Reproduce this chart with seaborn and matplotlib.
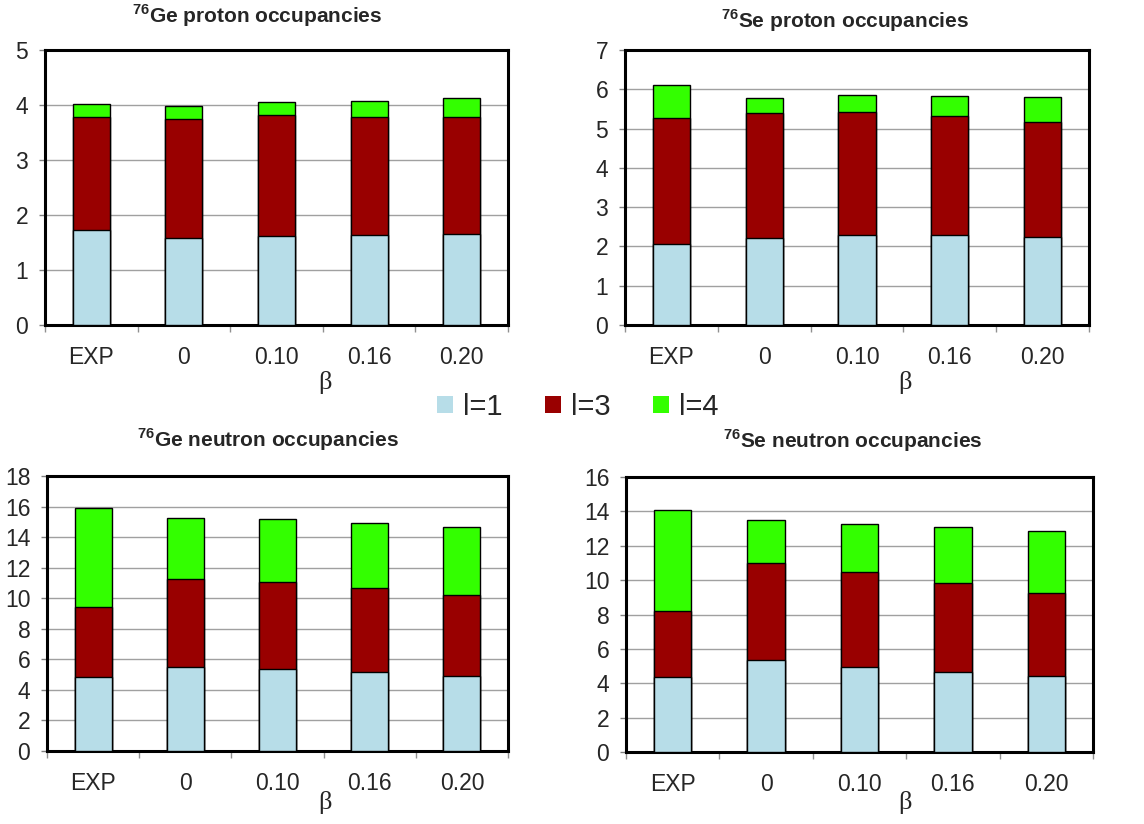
import numpy as np
import pandas as pd
import matplotlib
matplotlib.use("Agg")
import matplotlib.pyplot as plt
from matplotlib.patches import Patch
from matplotlib.ticker import MultipleLocator, FixedLocator
import seaborn as sns

# ---------------- data ----------------
categories = ["EXP", "0", "0.10", "0.16", "0.20"]
series_labels = ["l=1", "l=3", "l=4"]
series_colors = ["#B7DDE8", "#990000", "#33FF00"]

ge_proton_l1 = [1.73, 1.59, 1.62, 1.63, 1.65]
ge_proton_l3 = [2.05, 2.16, 2.19, 2.16, 2.14]
ge_proton_l4 = [0.23, 0.23, 0.24, 0.29, 0.34]

se_proton_l1 = [2.06, 2.22, 2.30, 2.28, 2.23]
se_proton_l3 = [3.20, 3.18, 3.13, 3.04, 2.94]
se_proton_l4 = [0.85, 0.38, 0.42, 0.51, 0.64]

ge_neutron_l1 = [4.87, 5.48, 5.37, 5.15, 4.93]
ge_neutron_l3 = [4.53, 5.76, 5.67, 5.50, 5.30]
ge_neutron_l4 = [6.48, 4.03, 4.15, 4.27, 4.43]

se_neutron_l1 = [4.38, 5.37, 4.96, 4.65, 4.40]
se_neutron_l3 = [3.84, 5.61, 5.49, 5.18, 4.87]
se_neutron_l4 = [5.84, 2.54, 2.82, 3.26, 3.59]

panel_titles = [r"$^{\mathbf{76}}$Ge proton occupancies",
                r"$^{\mathbf{76}}$Se proton occupancies",
                r"$^{\mathbf{76}}$Ge neutron occupancies",
                r"$^{\mathbf{76}}$Se neutron occupancies"]
y_max = [5, 7, 18, 16]
y_step = [1, 1, 2, 2]
x_label = "β"

panels = [
    (ge_proton_l1, ge_proton_l3, ge_proton_l4),
    (se_proton_l1, se_proton_l3, se_proton_l4),
    (ge_neutron_l1, ge_neutron_l3, ge_neutron_l4),
    (se_neutron_l1, se_neutron_l3, se_neutron_l4),
]

# ---------------- style ----------------
sns.set_style("white")
plt.rcParams["font.family"] = ["Liberation Sans", "DejaVu Sans"]
plt.rcParams["mathtext.fontset"] = "custom"
plt.rcParams["mathtext.rm"] = "Liberation Sans:bold"
plt.rcParams["mathtext.bf"] = "Liberation Sans:bold"

W, H = 1144, 824
fig = plt.figure(figsize=(W / 100, H / 100), dpi=100)

# axes boxes in pixels: left, top, right, bottom
boxes = [(45, 50, 508, 325), (625, 50, 1089, 325),
         (47, 476, 508, 751), (626, 477, 1093, 752)]
title_pos = [(257, 16), (845, 21), (268, 440), (853, 441)]
beta_pos = [(325, 382), (905, 382), (325, 802), (905, 802)]

for i, (l1, l3, l4) in enumerate(panels):
    L, T, R, B = boxes[i]
    ax = fig.add_axes([L / W, 1 - B / H, (R - L) / W, (B - T) / H])
    stack = np.cumsum(np.array([l1, l3, l4]), axis=0)
    # draw cumulative layers from top to bottom
    for k in [2, 1, 0]:
        df = pd.DataFrame({"beta": categories, "value": stack[k]})
        sns.barplot(data=df, x="beta", y="value", order=categories,
                    color=series_colors[k], saturation=1, width=0.4,
                    edgecolor="black", linewidth=1.0, ax=ax, zorder=3)
    ax.set_xlim(-0.5, len(categories) - 0.5)
    ax.set_ylim(0, y_max[i])
    ax.yaxis.set_major_locator(MultipleLocator(y_step[i]))
    ax.set_xlabel("")
    ax.set_ylabel("")
    ax.grid(axis="y", color="#A0A0A0", linewidth=1.0, zorder=0)
    ax.grid(axis="x", visible=False)
    ax.set_axisbelow(True)
    for s in ax.spines.values():
        s.set_visible(True)
        s.set_color("black")
        s.set_linewidth(2.2)
    ax.xaxis.set_minor_locator(FixedLocator(np.arange(-0.5, len(categories), 1.0)))
    ax.tick_params(axis="x", which="major", length=0, pad=15, labelsize=16.5)
    ax.tick_params(axis="x", which="minor", bottom=True, length=5, width=1,
                   color="#909090", direction="out")
    ax.tick_params(axis="y", which="major", left=True, length=4, width=1,
                   color="#808080", direction="out", pad=8, labelsize=16.5)
    tx, ty = title_pos[i]
    fig.text(tx / W, 1 - ty / H, panel_titles[i], ha="center", va="center",
             fontsize=15, fontweight="bold")
    bx, by = beta_pos[i]
    fig.text(bx / W, 1 - by / H, x_label, ha="center", va="center",
             fontsize=19, family=["Liberation Serif", "DejaVu Serif"])

handles = [Patch(facecolor=c, edgecolor="none") for c in series_colors]
fig.legend(handles, series_labels, ncol=3, loc="center",
           bbox_to_anchor=(578 / W, 1 - 407 / H), frameon=False, fontsize=21,
           handlelength=0.55, handleheight=0.55, handletextpad=0.35,
           columnspacing=1.45)

fig.savefig("out.png", dpi=100)
